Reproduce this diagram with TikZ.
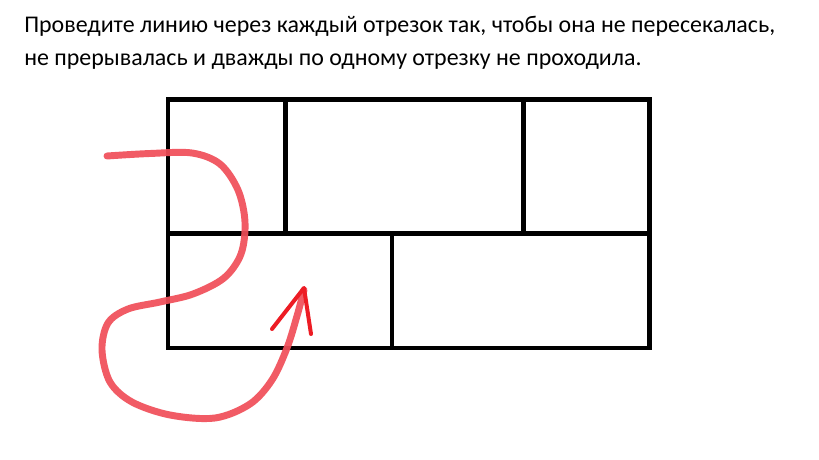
\documentclass[tikz,border=0pt]{standalone}
\usepackage{fontspec}
\setmainfont{Carlito}
\definecolor{pen}{RGB}{240,78,88}
\definecolor{tip}{RGB}{237,28,36}
\begin{document}
\begin{tikzpicture}[x=0.75pt,y=-0.75pt,
  grid/.style={line width=3.4pt,line cap=rect,line join=miter},
  stroke/.style={pen,line width=5.2pt,line cap=round,line join=round,opacity=0.92},
  tipline/.style={tip,line width=3pt,line cap=round,line join=round},
  label/.style={anchor=base west,inner sep=0pt,font=\fontsize{17.95}{24}\selectfont}]
\useasboundingbox (0,0) rectangle (819,460);
\fill[white] (0,0) rectangle (819,460);
\node[label] (l1) at (24,33) {Проведите линию через каждый отрезок так, чтобы она не пересекалась,};
\node[label] (l2) at (24,66) {не прерывалась и дважды по одному отрезку не проходила.};
% grid
\draw[grid] (168,99.5) rectangle (649.5,348);
\draw[grid] (168,233.3) -- (649.5,233.3);
\draw[grid] (285.5,99.5) -- (285.5,233.3);
\draw[grid] (523.5,99.5) -- (523.5,233.3);
\draw[grid] (392,233.3) -- (392,348);
% red line
\draw[stroke] plot[smooth,tension=0.55] coordinates {
 (107,156) (150,153.5) (192,153) (220,164) (238,190) (245,222)
 (241,254) (224,278) (193,294) (160,302) (128,309) (108,323)
 (102,350) (110,382) (132,402) (170,415) (215,418) (250,404) (272,380)
 (287,348) (297,316) (304,290)};
\draw[tipline] (272,329) -- (304,288) -- (311,334);
\end{tikzpicture}
\end{document}
